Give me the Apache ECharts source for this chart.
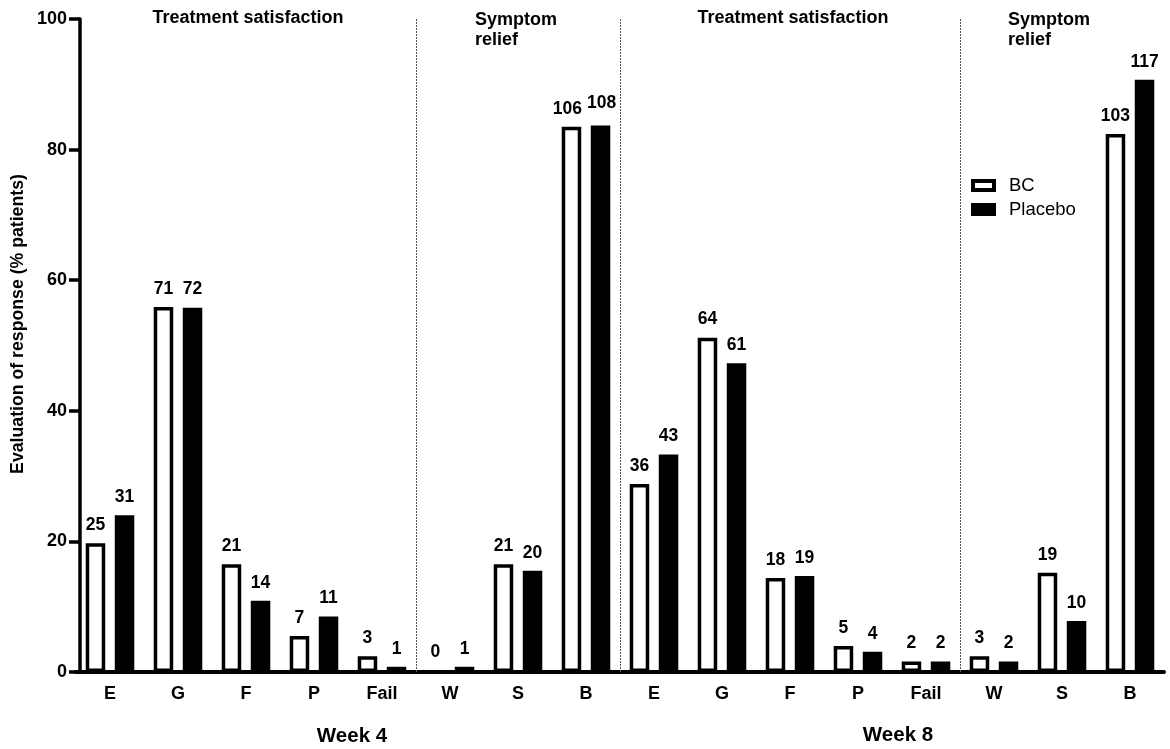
<!DOCTYPE html>
<html>
<head>
<meta charset="utf-8">
<script src="https://cdn.jsdelivr.net/npm/echarts@6/dist/echarts.min.js"></script>
<style>
  html, body { margin: 0; padding: 0; background: #fff; }
  #chart { width: 1170px; height: 749px; }
</style>
</head>
<body>
<div id="chart"></div>
<script>
// Response categories: treatment satisfaction (E, G, F, P, Fail) and
// symptom relief (W, S, B), at week 4 then week 8.
const categories = ['E', 'G', 'F', 'P', 'Fail', 'W', 'S', 'B',
                    'E', 'G', 'F', 'P', 'Fail', 'W', 'S', 'B'];

// Bar heights: % of patients
const bcPercent      = [19.7, 55.9, 16.5, 5.5, 2.4, 0.0, 16.5, 83.5,
                        28.8, 51.2, 14.4, 4.0, 1.6, 2.4, 15.2, 82.4];
const placeboPercent = [24.0, 55.8, 10.9, 8.5, 0.8, 0.8, 15.5, 83.7,
                        33.3, 47.3, 14.7, 3.1, 1.6, 1.6, 7.8, 90.7];

// Numbers of patients printed above the bars
const bcCount      = [25, 71, 21, 7, 3, 0, 21, 106, 36, 64, 18, 5, 2, 3, 19, 103];
const placeboCount = [31, 72, 14, 11, 1, 1, 20, 108, 43, 61, 19, 4, 2, 2, 10, 117];

const yTicks = [0, 20, 40, 60, 80, 100];

// Group boundaries (index of the first category of each new group)
const groupStarts = [5, 8, 13];

const FONT = 'Liberation Sans, Arial, sans-serif';

const chart = echarts.init(document.getElementById('chart'), null, { renderer: 'canvas' });

const labelStyle = {
  show: true,
  position: 'top',
  distance: 9,
  fontFamily: FONT,
  fontWeight: 'bold',
  fontSize: 17.5,
  color: '#000'
};

// nudge the crowded pair of labels over the week-4 "B" bars
const bcData = bcPercent.map((v, i) => i === 7 ? { value: v, label: { offset: [-4, 0] } } : v);
const placeboData = placeboPercent.map((v, i) => i === 7 ? { value: v, label: { offset: [1, -4] } } : v);

const option = {
  animation: false,
  backgroundColor: '#fff',
  grid: { left: 76, right: 6, top: 19, bottom: 77, containLabel: false },
  legend: {
    orient: 'vertical',
    left: 966,
    top: 171,
    icon: 'rect',
    itemWidth: 21,
    itemHeight: 9,
    itemGap: 5,
    textStyle: { fontFamily: FONT, fontSize: 18.5, color: '#000', lineHeight: 19, padding: [0, 0, 0, 10] },
    data: [
      { name: 'BC', itemStyle: { color: '#fff', borderColor: '#000', borderWidth: 4 } },
      { name: 'Placebo', itemStyle: { color: '#000', borderColor: '#000', borderWidth: 4 } }
    ]
  },
  xAxis: [
    {
      type: 'category',
      data: categories,
      boundaryGap: true,
      axisLine: { show: true, lineStyle: { color: '#000', width: 4 } },
      axisTick: { show: false },
      axisLabel: {
        interval: 0,
        margin: 13,
        fontFamily: FONT,
        fontWeight: 'bold',
        fontSize: 18,
        color: '#000'
      },
      splitLine: { show: false }
    },
    {
      // hidden index axis spanning the same width, used to place the group separators
      type: 'value',
      min: 0,
      max: categories.length,
      show: false,
      splitLine: { show: false }
    }
  ],
  yAxis: {
    type: 'value',
    min: yTicks[0],
    max: yTicks[yTicks.length - 1],
    interval: yTicks[1] - yTicks[0],
    offset: -4,
    axisLine: { show: true, lineStyle: { color: '#000', width: 3.5 } },
    axisTick: { show: true, length: 11, lineStyle: { color: '#000', width: 3.5 } },
    axisLabel: {
      margin: 13,
      fontFamily: FONT,
      fontWeight: 'bold',
      fontSize: 18,
      color: '#000'
    },
    splitLine: { show: false }
  },
  series: [
    {
      name: 'BC',
      type: 'bar',
      data: bcData,
      barWidth: 19.5,
      barGap: '49%',
      itemStyle: { color: '#fff', borderColor: '#000', borderWidth: 3.5 },
      label: Object.assign({}, labelStyle, { formatter: p => String(bcCount[p.dataIndex]) })
    },
    {
      name: 'Placebo',
      type: 'bar',
      data: placeboData,
      barWidth: 19.5,
      barGap: '49%',
      itemStyle: { color: '#000', borderColor: '#000', borderWidth: 3.5 },
      label: Object.assign({}, labelStyle, { formatter: p => String(placeboCount[p.dataIndex]) })
    },
    {
      name: 'separators',
      type: 'line',
      xAxisIndex: 1,
      data: [],
      silent: true,
      markLine: {
        silent: true,
        symbol: 'none',
        animation: false,
        label: { show: false },
        lineStyle: { color: '#555', width: 1, type: [2, 1] },
        data: groupStarts.map(v => ({ xAxis: v }))
      }
    }
  ],
  graphic: [
    {
      type: 'text', x: 18, y: 324, rotation: Math.PI / 2,
      style: {
        text: 'Evaluation of response (% patients)',
        fontFamily: FONT, fontWeight: 'bold', fontSize: 17.7, fill: '#000',
        align: 'center', verticalAlign: 'middle'
      }
    },
    {
      type: 'text', x: 248, y: 18,
      style: {
        text: 'Treatment satisfaction',
        fontFamily: FONT, fontWeight: 'bold', fontSize: 18, fill: '#000',
        align: 'center', verticalAlign: 'middle'
      }
    },
    {
      type: 'text', x: 475, y: 10,
      style: {
        text: 'Symptom\nrelief',
        fontFamily: FONT, fontWeight: 'bold', fontSize: 18, lineHeight: 20, fill: '#000',
        align: 'left', verticalAlign: 'top'
      }
    },
    {
      type: 'text', x: 793, y: 18,
      style: {
        text: 'Treatment satisfaction',
        fontFamily: FONT, fontWeight: 'bold', fontSize: 18, fill: '#000',
        align: 'center', verticalAlign: 'middle'
      }
    },
    {
      type: 'text', x: 1008, y: 10,
      style: {
        text: 'Symptom\nrelief',
        fontFamily: FONT, fontWeight: 'bold', fontSize: 18, lineHeight: 20, fill: '#000',
        align: 'left', verticalAlign: 'top'
      }
    },
    {
      type: 'text', x: 352, y: 736,
      style: {
        text: 'Week 4',
        fontFamily: FONT, fontWeight: 'bold', fontSize: 20.5, fill: '#000',
        align: 'center', verticalAlign: 'middle'
      }
    },
    {
      type: 'text', x: 898, y: 735,
      style: {
        text: 'Week 8',
        fontFamily: FONT, fontWeight: 'bold', fontSize: 20.5, fill: '#000',
        align: 'center', verticalAlign: 'middle'
      }
    }
  ]
};

chart.setOption(option);
</script>
</body>
</html>
